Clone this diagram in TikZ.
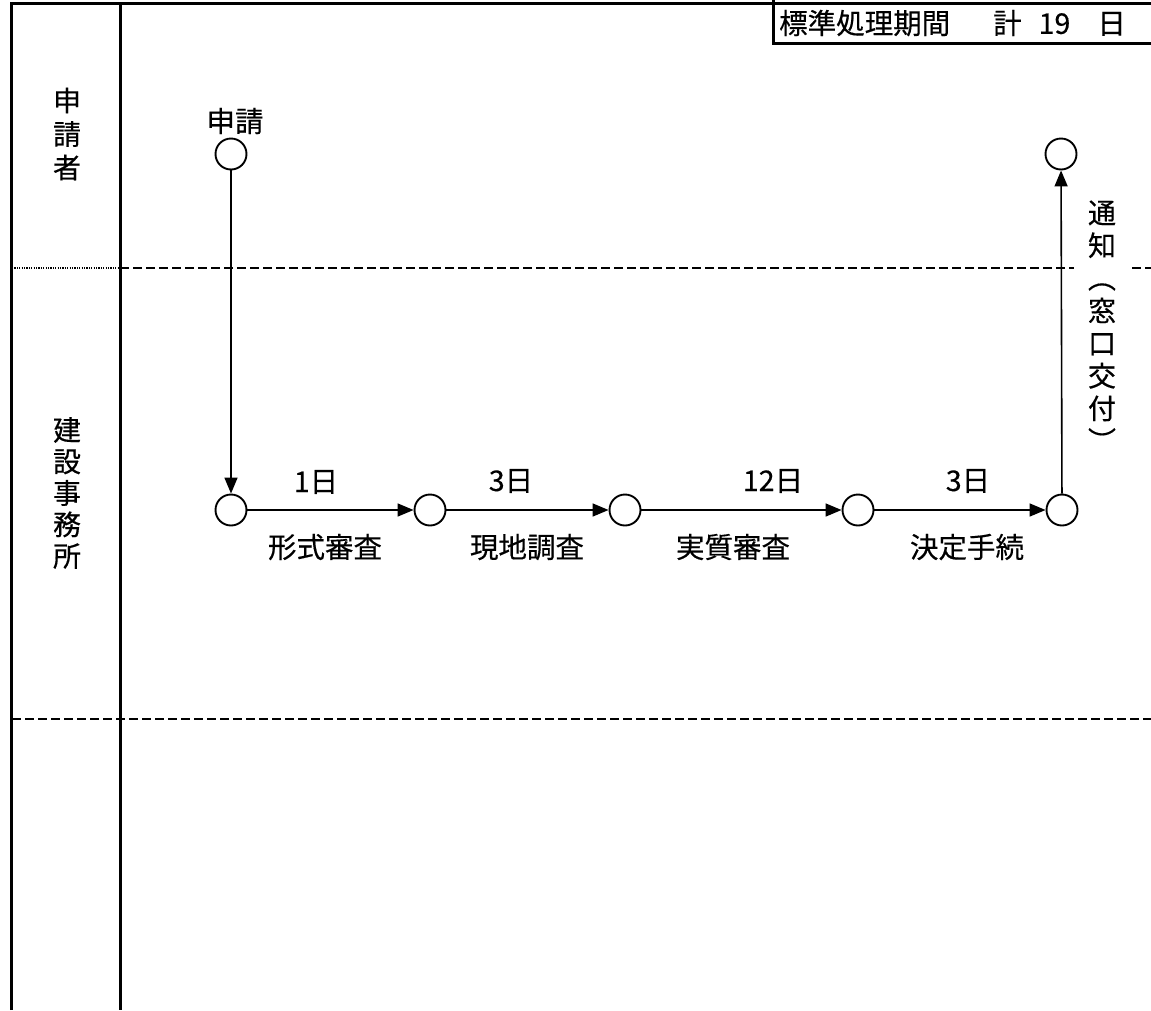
\documentclass[tikz,border=0pt]{standalone}
\usepackage{fontspec}
\setmainfont[FakeBold=0.4]{Noto Sans CJK JP}
\usetikzlibrary{arrows.meta,shapes.geometric}
\tikzset{
  frame/.style={line width=3pt},
  lanedash/.style={line width=2.6pt, dash pattern=on 9pt off 4pt},
  lanedot/.style={line width=2.2pt, dash pattern=on 1.2pt off 1.2pt},
  evt/.style={draw, circle, line width=1.9pt, minimum size=31pt, inner sep=0pt},
  flow/.style={line width=1.6pt, -{Triangle[length=16pt,width=13pt]}},
  lbl/.style={font=\fontsize{28.5}{32}\selectfont, inner sep=0pt},
  vlbl/.style={font=\fontsize{28}{32}\selectfont, align=center, inner sep=0pt},
}
\begin{document}
\begin{tikzpicture}[x=1pt,y=-1pt]
\useasboundingbox (0,0) rectangle (1151,1010);
% frame
\draw[frame] (11,1010) -- (11,3) -- (1151,3);
\draw[frame] (120,3) -- (120,1010);
\draw[frame] (773,0) -- (773,43) -- (1151,43);
% lanes
\draw[lanedot] (12,268) -- (120,268);
\draw[lanedash] (120,268) -- (1074,268);
\draw[lanedash] (1132,268) -- (1151,268);
\draw[lanedash] (12,719) -- (1151,719);
% title
\node[lbl, anchor=west] (title) at (779,23) {標準処理期間\hspace{43pt}計\hspace{17pt}19\hspace{27pt}日};
% lane labels
\node[vlbl, font=\fontsize{28}{33.5}\selectfont] (lane1) at (67,134) {申\\請\\者};
\node[vlbl, font=\fontsize{28}{31.5}\selectfont] (lane2) at (67,493) {建\\設\\事\\務\\所};
% events
\node[evt] (s) at (231,154) {};
\node[evt] (e) at (1061,154) {};
\node[evt] (a) at (231,510) {};
\node[evt] (b) at (430,510) {};
\node[evt] (c) at (625,510) {};
\node[evt] (d) at (858,510) {};
\node[evt] (f) at (1062,510) {};
% flows
\draw[flow] (s) -- (a);
\draw[flow] (a) -- (b);
\draw[flow] (b) -- (c);
\draw[flow] (c) -- (d);
\draw[flow] (d) -- (f);
\draw[flow] (f) -- (e);
% labels
\node[lbl] (ls) at (235,121) {申請};
\node[lbl] (d1) at (316,482) {1日};
\node[lbl] (t1) at (325,547) {形式審査};
\node[lbl] (d2) at (511,481) {3日};
\node[lbl] (t2) at (527,547) {現地調査};
\node[lbl] (d3) at (773,481) {12日};
\node[lbl] (t3) at (733,547) {実質審査};
\node[lbl] (d4) at (968,481) {3日};
\node[lbl] (t4) at (967,547) {決定手続};
\node[vlbl, font=\fontsize{28}{32.6}\selectfont] (notice) at (1102,326) {通\\知\\︵\\窓\\口\\交\\付\\︶};
\end{tikzpicture}
\end{document}
